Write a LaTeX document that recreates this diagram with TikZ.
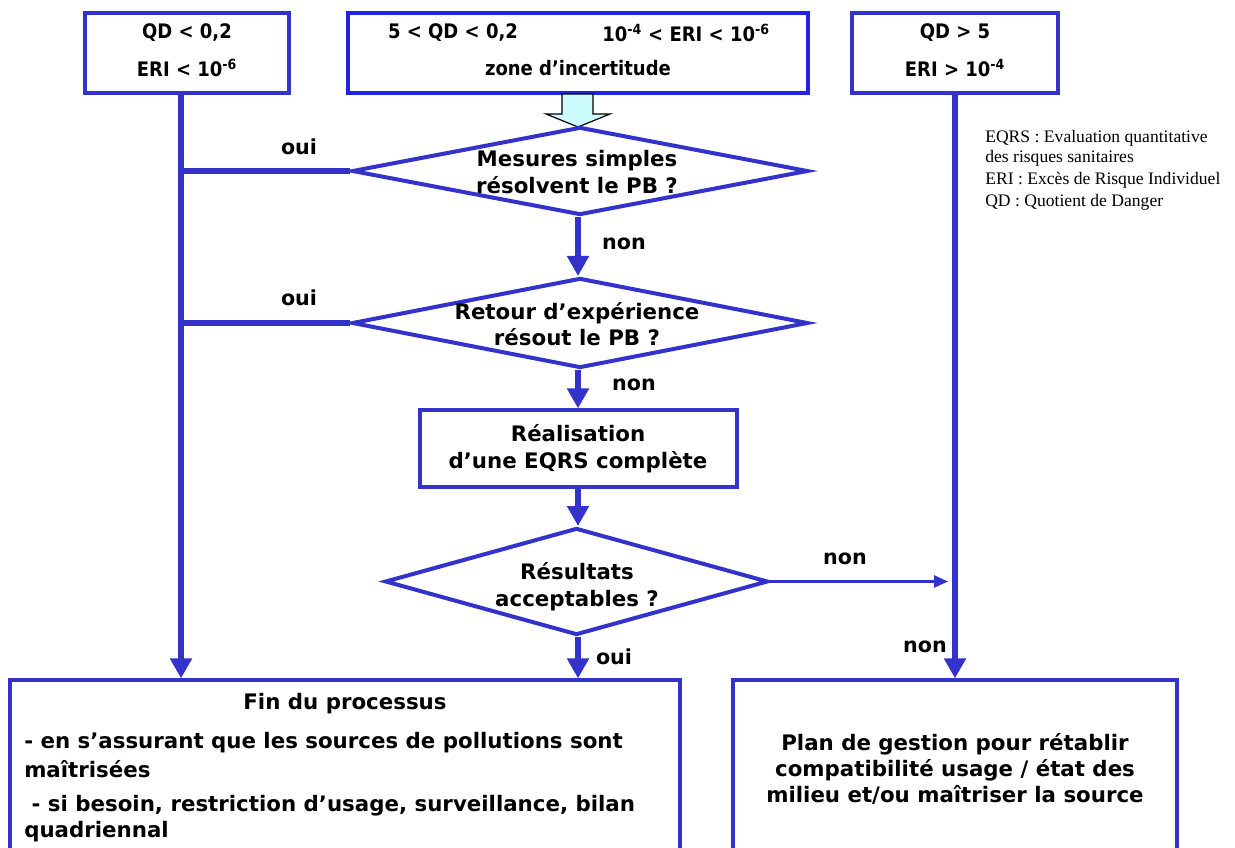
\documentclass[tikz,border=0pt]{standalone}
\usepackage{fontspec}
\setmainfont{DejaVu Sans}
\newfontfamily\condf{DejaVu Sans Condensed}
\newfontfamily\serf{Liberation Serif}
\usetikzlibrary{arrows.meta,shapes.geometric}
\definecolor{fb}{RGB}{51,51,204}
\definecolor{fbb}{RGB}{34,34,230}
\definecolor{cy}{RGB}{204,252,252}
\begin{document}
\begin{tikzpicture}[x=0.75pt,y=-0.75pt,
  topbox/.style={draw=fb,line width=2.4pt,minimum height=60pt,inner sep=0pt},
  flowbox/.style={draw=fb,line width=2.4pt,inner sep=0pt},
  decision/.style={diamond,draw=fb,line width=3pt,inner sep=0pt},
  txt/.style={font=\bfseries\fontsize{16}{20}\selectfont,inner sep=0pt},
  toptxt/.style={font=\condf\bfseries\fontsize{15}{18}\selectfont,inner sep=0pt},
  lbl/.style={font=\bfseries\fontsize{15.5}{18}\selectfont,inner sep=0pt},
  legend/.style={font=\serf\fontsize{13.2}{15}\selectfont,inner sep=0pt,anchor=west},
  conn/.style={draw=fb,line width=3.8pt},
  connar/.style={conn,-{Triangle[width=15.75pt,length=15pt]}},
  thinar/.style={draw=fb,line width=1.9pt,-{Triangle[width=9pt,length=10.5pt]}}
]
\useasboundingbox (0,0) rectangle (1235,848);
\clip (0,0) rectangle (1235,848);

% top boxes
\node[topbox,minimum width=153pt] (A) at (187,53) {};
\node[toptxt] at (187,33) {QD < 0,2};
\node[toptxt] at (187,68) {ERI < 10\textsuperscript{-6}};

\node[topbox,draw=fbb,minimum width=345pt] (B) at (578,53) {};
\node[toptxt] at (453,33) {5 < QD < 0,2};
\node[toptxt] at (686,33) {10\textsuperscript{-4} < ERI < 10\textsuperscript{-6}};
\node[toptxt] at (578,68) {zone d’incertitude};

\node[topbox,minimum width=154.5pt] (C) at (955,53) {};
\node[toptxt] at (955,33) {QD > 5};
\node[toptxt] at (955,68) {ERI > 10\textsuperscript{-4}};

% hollow arrow
\draw[fill=cy,line width=0.9pt] (562,94) -- (593,94) -- (593,114) -- (610,114) -- (578,127) -- (546,114) -- (562,114) -- cycle;

% decisions
\node[decision,minimum width=342pt,minimum height=66pt] (d1) at (580,171) {};
\node[txt,align=center] at (577,172) {Mesures simples\\résolvent le PB ?};

\node[decision,minimum width=342pt,minimum height=67.5pt] (d2) at (580,323) {};
\node[txt,align=center] at (577,324) {Retour d’expérience\\résout le PB ?};

\node[flowbox,minimum width=237.75pt,minimum height=57.75pt] (D) at (578.5,448.5) {};
\node[txt,align=center] at (578,449) {Réalisation\\d’une EQRS complète};

\node[decision,minimum width=287.25pt,minimum height=80.25pt] (d3) at (576.5,581.5) {};
\node[txt,align=center] at (577,587) {Résultats\\acceptables ?};

% bottom boxes
\node[flowbox,minimum width=502.5pt,minimum height=142.5pt] (E) at (345,775) {};
\node[txt] at (345,704) {Fin du processus};
\node[txt,anchor=west] at (24,743) {- en s’assurant que les sources de pollutions sont};
\node[txt,anchor=west] at (24,769) {maîtrisées};
\node[txt,anchor=west] at (24,806) {\ - si besoin, restriction d’usage, surveillance, bilan};
\node[txt,anchor=west] at (24,832) {quadriennal};

\node[flowbox,minimum width=333pt,minimum height=142.5pt] (F) at (955,775) {};
\node[txt,align=center,font=\bfseries\fontsize{16}{19.5}\selectfont] at (955,769) {Plan de gestion pour rétablir\\compatibilité usage / état des\\milieu et/ou maîtriser la source};

% legend
\node[legend] at (985,138) {EQRS : Evaluation quantitative};
\node[legend] at (985,158) {des risques sanitaires};
\node[legend] at (985,180) {ERI : Excès de Risque Individuel};
\node[legend] at (985,202) {QD : Quotient de Danger};

% connectors
\coordinate (lx) at ([xshift=-4.5pt]A.south);
\draw[connar] (lx) -- (lx |- E.north);
\draw[conn] (d1.west) -- (lx |- d1.west);
\draw[conn] (d2.west) -- (lx |- d2.west);
\draw[connar] (d1.south -| 578,0) -- (d2.north -| 578,0);
\draw[connar] (d2.south -| 578,0) -- (D.north -| 578,0);
\draw[connar] (D.south -| 578,0) -- (d3.north -| 578,0);
\draw[connar] (d3.south -| 578,0) -- (E.north -| 578,0);
\draw[connar] (C.south) -- (C.south |- F.north);
\coordinate (tend) at ([xshift=-5.25pt]C.south |- d3.east);
\draw[thinar] (d3.east) -- (tend);

% labels
\node[lbl] at (299,147) {oui};
\node[lbl] at (299,298) {oui};
\node[lbl] at (624,244) {non};
\node[lbl] at (634,385) {non};
\node[lbl] at (845,559) {non};
\node[lbl] at (925,647) {non};
\node[lbl] at (614,657) {oui};
\end{tikzpicture}
\end{document}
